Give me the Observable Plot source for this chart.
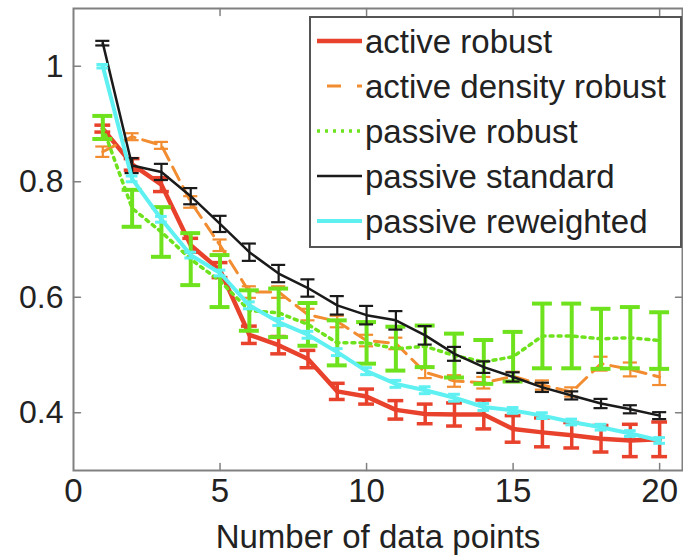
<!DOCTYPE html>
<html>
<head>
<meta charset="utf-8">
<script src="https://cdn.jsdelivr.net/npm/d3@7"></script>
<script src="https://cdn.jsdelivr.net/npm/@observablehq/plot@0.6"></script>
<style>
  html, body { margin: 0; padding: 0; background: #fff; }
  #chart { position: relative; width: 683px; height: 557px; }
  #chart svg { display: block; }
  #legend { position: absolute; left: 309px; top: 16px; }
</style>
</head>
<body>
<div id="chart"></div>
<script>
// Number of data points on the x axis
const points = d3.range(1, 21);

// Mean error and error-bar half-width for each method
const activeRobust = [0.892, 0.83, 0.795, 0.69, 0.647, 0.535, 0.517, 0.493, 0.437, 0.428, 0.405, 0.398, 0.397, 0.397, 0.372, 0.366, 0.361, 0.355, 0.352, 0.354];
const activeRobustErr = [0.006, 0.01, 0.012, 0.012, 0.013, 0.015, 0.015, 0.015, 0.014, 0.013, 0.016, 0.017, 0.02, 0.025, 0.023, 0.025, 0.022, 0.023, 0.028, 0.03];

const activeDensityRobust = [0.852, 0.878, 0.863, 0.765, 0.69, 0.609, 0.609, 0.57, 0.558, 0.525, 0.52, 0.47, 0.455, 0.452, 0.463, 0.448, 0.436, 0.485, 0.475, 0.462];
const activeDensityRobustErr = [0.009, 0.006, 0.006, 0.01, 0.01, 0.01, 0.01, 0.01, 0.01, 0.01, 0.01, 0.01, 0.01, 0.01, 0.008, 0.008, 0.008, 0.012, 0.012, 0.014];

const passiveRobust = [0.894, 0.754, 0.713, 0.666, 0.628, 0.577, 0.573, 0.553, 0.521, 0.521, 0.511, 0.515, 0.499, 0.488, 0.497, 0.533, 0.533, 0.528, 0.53, 0.525];
const passiveRobustErr = [0.02, 0.032, 0.043, 0.045, 0.045, 0.035, 0.042, 0.037, 0.039, 0.036, 0.038, 0.036, 0.038, 0.038, 0.043, 0.056, 0.056, 0.052, 0.053, 0.049];

const passiveStandard = [1.04, 0.828, 0.817, 0.775, 0.727, 0.678, 0.641, 0.616, 0.586, 0.569, 0.56, 0.534, 0.502, 0.479, 0.462, 0.444, 0.43, 0.416, 0.406, 0.395];
const passiveStandardErr = [0.004, 0.013, 0.014, 0.014, 0.014, 0.015, 0.015, 0.015, 0.016, 0.016, 0.016, 0.016, 0.012, 0.01, 0.008, 0.008, 0.007, 0.008, 0.007, 0.006];

const passiveReweighted = [1.0, 0.805, 0.735, 0.673, 0.642, 0.586, 0.557, 0.535, 0.505, 0.472, 0.45, 0.439, 0.426, 0.41, 0.404, 0.395, 0.384, 0.375, 0.364, 0.352];
const passiveReweightedErr = [0.003, 0.005, 0.005, 0.005, 0.005, 0.006, 0.006, 0.006, 0.006, 0.006, 0.006, 0.006, 0.006, 0.006, 0.005, 0.005, 0.005, 0.005, 0.005, 0.005];

const seriesNames = ["active robust", "active density robust", "passive robust", "passive standard", "passive reweighted"];

// Axis ticks
const xTicks = [0, 5, 10, 15, 20];
const yTicks = [0.4, 0.6, 0.8, 1];
const xLabel = "Number of data points";

// Per-series drawing style, in legend order
const series = [
  {name: seriesNames[0], mean: activeRobust, err: activeRobustErr, color: "#e8412c", width: 4.5, barWidth: 3.5, cap: 0.27, dash: null},
  {name: seriesNames[1], mean: activeDensityRobust, err: activeDensityRobustErr, color: "#f28c30", width: 3, barWidth: 2.2, cap: 0.24, dash: "14,8"},
  {name: seriesNames[2], mean: passiveRobust, err: passiveRobustErr, color: "#6ee21c", width: 3.5, barWidth: 4, cap: 0.34, dash: "3,5"},
  {name: seriesNames[3], mean: passiveStandard, err: passiveStandardErr, color: "#1a1a1a", width: 2.5, barWidth: 2.2, cap: 0.24, dash: null},
  {name: seriesNames[4], mean: passiveReweighted, err: passiveReweightedErr, color: "#5ff0f2", width: 4, barWidth: 3, cap: 0.2, dash: null}
];

const rows = series.map(s => points.map((x, i) => ({x, y: s.mean[i], lo: s.mean[i] - s.err[i], hi: s.mean[i] + s.err[i], cap: s.cap})));

const axisColor = "#808080";
const font = "Liberation Sans, Arial, sans-serif";

// Short inward tick drawn from the frame edge
const tickShape = {draw(context, l) { context.moveTo(0, 0); context.lineTo(0, -l); }};

const marks = [];
series.forEach((s, k) => {
  const d = rows[k];
  marks.push(Plot.line(d, {x: "x", y: "y", stroke: s.color, strokeWidth: s.width, strokeDasharray: s.dash, strokeLinejoin: "round"}));
  marks.push(Plot.ruleX(d, {x: "x", y1: "lo", y2: "hi", stroke: s.color, strokeWidth: s.barWidth}));
  marks.push(Plot.ruleY(d, {y: "lo", x1: r => r.x - r.cap, x2: r => r.x + r.cap, stroke: s.color, strokeWidth: s.barWidth}));
  marks.push(Plot.ruleY(d, {y: "hi", x1: r => r.x - r.cap, x2: r => r.x + r.cap, stroke: s.color, strokeWidth: s.barWidth}));
});

const plot = Plot.plot({
  width: 683,
  height: 557,
  marginLeft: 73,
  marginRight: 1,
  marginTop: 8,
  marginBottom: 87,
  style: {fontFamily: font, fontSize: "33px", color: "#222", background: "#fff"},
  x: {domain: [0, 20.78]},
  y: {domain: [0.3, 1.1]},
  marks: [
    Plot.axisY({ticks: yTicks, tickSize: 0, tickPadding: 10, tickFormat: d => String(d), label: null, fill: "#222", fontSize: 32}),
    Plot.axisX({ticks: xTicks, tickSize: 0, tickPadding: 8, tickFormat: d => String(d), label: xLabel, labelAnchor: "center", labelArrow: "none", labelOffset: 77, fill: "#222"}),
    Plot.vector(xTicks.filter(d => d > 0), {x: d => d, frameAnchor: "bottom", length: 7, rotate: 0, anchor: "start", shape: tickShape, stroke: axisColor, strokeWidth: 1.5}),
    Plot.vector(xTicks.filter(d => d > 0), {x: d => d, frameAnchor: "top", length: 7, rotate: 180, anchor: "start", shape: tickShape, stroke: axisColor, strokeWidth: 1.5}),
    Plot.vector(yTicks, {y: d => d, frameAnchor: "left", length: 7, rotate: 90, anchor: "start", shape: tickShape, stroke: axisColor, strokeWidth: 1.5}),
    Plot.vector(yTicks, {y: d => d, frameAnchor: "right", length: 7, rotate: 270, anchor: "start", shape: tickShape, stroke: axisColor, strokeWidth: 1.5}),
    ...marks,
    Plot.frame({stroke: axisColor, strokeWidth: 2})
  ]
});

const chart = document.getElementById("chart");
chart.appendChild(plot);

// Legend box inside the upper right of the axes
const legendW = 371, legendH = 230, rowGap = 45, rowTop = 25;
const legend = d3.select(chart).append("svg")
  .attr("id", "legend")
  .attr("width", legendW + 2)
  .attr("height", legendH + 2);
legend.append("rect")
  .attr("x", 1).attr("y", 1)
  .attr("width", legendW).attr("height", legendH)
  .attr("fill", "#fff").attr("stroke", "#555").attr("stroke-width", 2);
series.forEach((s, i) => {
  const cy = rowTop + i * rowGap;
  legend.append("line")
    .attr("x1", 8).attr("x2", 53).attr("y1", cy).attr("y2", cy)
    .attr("stroke", s.color).attr("stroke-width", s.width)
    .attr("stroke-dasharray", s.dash ? (s.dash === "14,8" ? "0,10,14,6" : s.dash) : null);
  legend.append("text")
    .attr("x", 56).attr("y", cy).attr("dy", "0.35em")
    .attr("font-family", font).attr("font-size", 33).attr("fill", "#222")
    .text(s.name);
});
</script>
</body>
</html>
